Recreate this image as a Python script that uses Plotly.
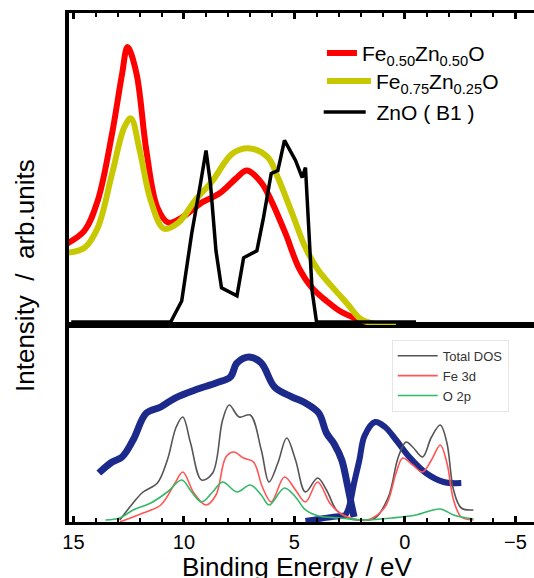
import plotly.graph_objects as go

# ---------------- data: top panel (measured spectra) ----------------
fe50_E = [15.3, 14.5, 13.9, 13.25, 12.8, 12.55, 12.15, 11.7, 11.2, 10.7, 10.1, 9.2, 8.4, 7.6, 7.15,
          6.5, 6.05, 5.4, 4.8, 4.2, 3.55, 2.95, 2.15, 1.4, 0.4]
fe50_I = [81, 94, 124, 191, 250, 277, 251, 174, 117, 102, 107, 122, 131, 147, 154,
          142, 124, 91, 57, 37, 24, 14, 6, 1, 0]

fe75_E = [15.3, 14.5, 13.9, 13.25, 12.7, 12.4, 12.0, 11.5, 10.9, 10.25, 9.5, 8.7, 7.8, 7.0,
          6.2, 5.75, 5.1, 4.5, 3.9, 3.25, 2.6, 2.0, 1.35, 0.4]
fe75_I = [72, 77, 97, 151, 197, 206, 174, 124, 96, 102, 124, 144, 171, 176,
          167, 147, 111, 77, 54, 37, 21, 6, 1, 0]

zno_E = [15.1, 10.6, 10.1, 9.65, 9.25, 9.0, 8.8, 8.55, 8.3, 7.6, 7.3, 6.7, 6.4, 6.05, 5.75,
         5.45, 4.95, 4.65, 4.5, 4.35, 4.2, 4.0, -0.5]
zno_I = [3, 3, 24, 91, 141, 174, 141, 74, 37, 29, 67, 74, 107, 151, 154,
         184, 164, 147, 157, 91, 34, 3, 3]

# ---------------- data: bottom panel (PES / BIS and calculated DOS) ----------------
pes_E = [13.85, 13.25, 12.8, 12.3, 11.7, 11.05, 10.4, 9.5, 8.55, 7.9, 7.6, 7.05, 6.5, 5.9,
         5.1, 4.5, 3.9, 3.55, 3.2, 2.86, 2.62, 2.4, 2.3]
pes_I = [49, 60, 65, 82, 109, 115, 124, 132, 139, 145, 159, 165, 159, 135,
         125, 119, 109, 89, 78, 62, 39, 15, 5]

bis_E = [4.5, 3.9, 3.3, 2.9, 2.7, 2.53, 2.3, 2.06, 1.83, 1.35, 0.9, 0.4, -0.2, -0.95, -1.75, -2.55]
bis_I = [1, 3, 5, 6, 7, 15, 39, 62, 86, 100, 95, 82, 65, 49, 40, 39]

tot_E = [12.9, 12.3, 11.85, 11.2, 10.75, 10.35, 10.05, 9.7, 9.2, 8.7, 8.25, 7.95, 7.5, 7.0, 6.5,
         6.15, 5.75, 5.35, 4.95, 4.5, 3.95, 3.55, 3.1, 2.6, 2.15, 1.35, 0.75, 0.3, -0.05, -0.35,
         -0.8, -1.2, -1.6, -1.9, -2.2, -2.55, -3.1]
tot_I = [2, 19, 30, 39, 62, 95, 105, 79, 42, 49, 102, 117, 105, 107, 72,
         40, 59, 84, 62, 30, 44, 32, 12, 4, 2, 4, 25, 65, 80, 75,
         65, 85, 97, 79, 32, 14, 12]

fe3d_E = [12.9, 11.85, 11.05, 10.4, 10.05, 9.55, 9.0, 8.55, 8.1, 7.75, 7.3, 6.85, 6.45, 6.05,
          5.45, 4.95, 4.5, 3.95, 3.4, 2.95, 2.3, 1.7, 0.9, 0.4, 0.1, -0.35, -0.8, -1.2, -1.6,
          -1.9, -2.2, -2.55, -3.1]
fe3d_I = [0, 9, 17, 39, 50, 29, 17, 27, 65, 70, 64, 60, 35, 20,
          45, 32, 20, 40, 19, 9, 3, 2, 15, 49, 64, 57, 50, 62, 77,
          59, 22, 5, 2]

o2p_E = [13.55, 12.9, 12.3, 11.5, 10.75, 10.1, 9.65, 9.2, 8.7, 8.25, 7.6, 7.0, 6.5, 6.15,
         5.45, 4.95, 4.5, 3.9, 2.95, 1.7, 0.6, -0.5, -1.6, -2.2, -3.1]
o2p_I = [2, 4, 12, 19, 30, 42, 30, 20, 30, 40, 30, 37, 27, 17,
         34, 25, 12, 6, 4, 2, 4, 7, 13, 7, 3]

x_tick_vals = [15, 10, 5, 0, -5]
x_tick_text = ["15", "10", "5", "0", "\u22125"]

FONT = "Liberation Sans, Arial, sans-serif"

fig = go.Figure()

# top panel
fig.add_trace(go.Scatter(x=fe50_E, y=fe50_I, mode="lines", line=dict(color="#ff0000", width=6, shape="spline"),
                         name="Fe<sub>0.50</sub>Zn<sub>0.50</sub>O", xaxis="x2", yaxis="y2", legend="legend"))
fig.add_trace(go.Scatter(x=fe75_E, y=fe75_I, mode="lines", line=dict(color="#c8c800", width=6, shape="spline"),
                         name="Fe<sub>0.75</sub>Zn<sub>0.25</sub>O", xaxis="x2", yaxis="y2", legend="legend3"))
fig.add_trace(go.Scatter(x=zno_E, y=zno_I, mode="lines", line=dict(color="#000000", width=3.5),
                         name=" ZnO ( B1 )", xaxis="x2", yaxis="y2", legend="legend4"))

# bottom panel
fig.add_trace(go.Scatter(x=pes_E, y=pes_I, mode="lines", line=dict(color="#1c2a8c", width=7, shape="spline"),
                         showlegend=False, xaxis="x", yaxis="y"))
fig.add_trace(go.Scatter(x=bis_E, y=bis_I, mode="lines", line=dict(color="#1c2a8c", width=6, shape="spline"),
                         showlegend=False, xaxis="x", yaxis="y"))
fig.add_trace(go.Scatter(x=tot_E, y=tot_I, mode="lines", line=dict(color="#555555", width=1.6, shape="spline"),
                         name="Total DOS", xaxis="x", yaxis="y", legend="legend2"))
fig.add_trace(go.Scatter(x=fe3d_E, y=fe3d_I, mode="lines", line=dict(color="#ff5555", width=1.6, shape="spline"),
                         name="Fe 3d", xaxis="x", yaxis="y", legend="legend2"))
fig.add_trace(go.Scatter(x=o2p_E, y=o2p_I, mode="lines", line=dict(color="#33b866", width=1.6, shape="spline"),
                         name="O 2p", xaxis="x", yaxis="y", legend="legend2"))

xrange = [15.2, -5.84]
common_x = dict(range=xrange, showgrid=False, zeroline=False, showline=True, linecolor="black",
                linewidth=3, mirror=True, ticks="inside", ticklen=6, tickwidth=3, tickcolor="black",
                tickvals=x_tick_vals, ticktext=x_tick_text,
                minor=dict(dtick=1, tick0=0, ticks="inside", ticklen=4, tickwidth=2, tickcolor="black"))

top_leg_font = dict(size=21, family=FONT, color="black")
fig.update_layout(
    width=534, height=578,
    margin=dict(l=69, r=0, t=13, b=56),
    paper_bgcolor="white", plot_bgcolor="white",
    font=dict(family=FONT, color="black"),
    xaxis=dict(**common_x, anchor="y", tickfont=dict(size=20, family=FONT, color="black")),
    xaxis2=dict(**common_x, anchor="y2", side="top", showticklabels=False, matches="x"),
    yaxis=dict(domain=[0, 0.387], range=[0, 197], showgrid=False, zeroline=False, showticklabels=False,
               showline=True, linecolor="black", linewidth=4, ticks=""),
    yaxis2=dict(domain=[0.387, 1], range=[0, 311], showgrid=False, zeroline=False, showticklabels=False,
                showline=True, linecolor="black", linewidth=4, ticks=""),
    legend=dict(x=0.544, y=0.961, xanchor="left", yanchor="top", bgcolor="rgba(0,0,0,0)",
                font=top_leg_font, itemwidth=30),
    legend3=dict(x=0.544, y=0.906, xanchor="left", yanchor="top", bgcolor="rgba(0,0,0,0)",
                 font=top_leg_font, itemwidth=44),
    legend4=dict(x=0.537, y=0.845, xanchor="left", yanchor="top", bgcolor="rgba(0,0,0,0)",
                 font=top_leg_font, itemwidth=42),
    legend2=dict(x=0.694, y=0.358, xanchor="left", yanchor="top", bgcolor="white",
                 bordercolor="#e6e6e6", borderwidth=1,
                 font=dict(size=13, family=FONT, color="#333333"), itemwidth=40),
    annotations=[
        dict(text="Intensity  /  arb.units", textangle=-90, xref="paper", yref="paper",
             x=-0.095, y=0.485, xanchor="center", yanchor="middle", showarrow=False,
             font=dict(size=26, family=FONT, color="black")),
        dict(text="Binding Energy / eV", xref="paper", yref="paper",
             x=0.49, y=-0.088, xanchor="center", yanchor="middle", showarrow=False,
             font=dict(size=26, family=FONT, color="black")),
    ],
)

fig.write_html("out.html", config={"displayModeBar": False},
               post_script="document.body.style.margin='0';document.body.style.overflow='hidden';")
